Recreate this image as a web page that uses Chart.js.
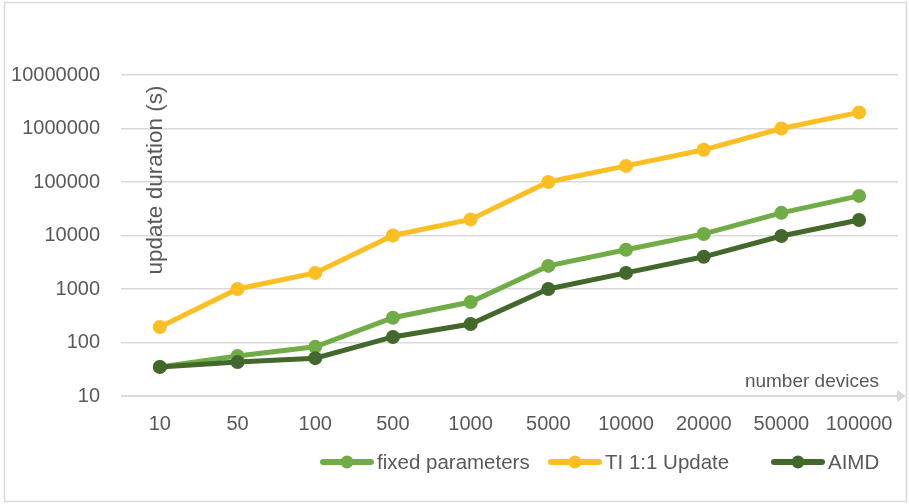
<!DOCTYPE html>
<html>
<head>
<meta charset="utf-8">
<script src="https://cdn.jsdelivr.net/npm/chart.js@4/dist/chart.umd.min.js"></script>
<style>
  html, body { margin: 0; padding: 0; background: #ffffff; }
  #wrap { width: 909px; height: 504px; position: relative; }
</style>
</head>
<body>
<div id="wrap"><canvas id="c" width="909" height="504"></canvas></div>
<script>
// Number of devices (category axis)
const deviceCounts = ['10', '50', '100', '500', '1000', '5000', '10000', '20000', '50000', '100000'];
// Update duration in seconds per strategy
const fixedParameters = [35, 56, 83, 290, 570, 2700, 5400, 10700, 26500, 55000];
const tiUpdate = [195, 1000, 2000, 10000, 20000, 100000, 200000, 400000, 1000000, 2000000];
const aimd = [35, 43, 51, 127, 222, 1000, 2000, 4000, 9800, 19500];
// Decade ticks on the log axis
const durationTicks = [10, 100, 1000, 10000, 100000, 1000000, 10000000];

const seriesNames = ['fixed parameters', 'TI 1:1 Update', 'AIMD'];
const seriesColors = ['#70AD47', '#FBBF24', '#43682B'];

const FONT = '"Liberation Sans", Arial, sans-serif';
const TEXT = '#595959';
const GRID = '#d9d9d9';
// left edge of each legend entry
const LEGEND_X = [320, 548, 771];

function lineDataset(i, data, order) {
  return {
    label: seriesNames[i],
    data: data,
    borderColor: seriesColors[i],
    backgroundColor: seriesColors[i],
    pointBackgroundColor: seriesColors[i],
    pointBorderColor: seriesColors[i],
    borderWidth: 5,
    pointRadius: 7,
    pointBorderWidth: 0,
    tension: 0,
    order: order
  };
}

// Frame, arrowed x axis, axis titles and the line+marker legend
const decorations = {
  id: 'decorations',
  beforeDatasetsDraw(chart) {
    const { ctx, chartArea: a, scales: { y } } = chart;
    const yb = Math.round(y.getPixelForValue(10));
    ctx.save();
    ctx.strokeStyle = GRID;
    ctx.lineWidth = 2;
    ctx.beginPath();
    ctx.moveTo(a.left, yb);
    ctx.lineTo(a.right, yb);
    ctx.stroke();
    ctx.fillStyle = GRID;
    ctx.beginPath();
    ctx.moveTo(a.right - 1, yb - 6.5);
    ctx.lineTo(a.right + 8, yb);
    ctx.lineTo(a.right - 1, yb + 6.5);
    ctx.closePath();
    ctx.fill();
    ctx.restore();
  },
  afterDraw(chart) {
    const { ctx } = chart;
    ctx.save();
    // outer frame
    ctx.strokeStyle = GRID;
    ctx.lineWidth = 1.5;
    ctx.strokeRect(4.5, 2.5, 902, 499);

    // y axis title, placed inside the plot
    ctx.fillStyle = TEXT;
    ctx.font = '22.5px ' + FONT;
    ctx.textAlign = 'center';
    ctx.textBaseline = 'middle';
    ctx.save();
    ctx.translate(156, 180);
    ctx.rotate(-Math.PI / 2);
    ctx.fillText('update duration (s)', 0, 0);
    ctx.restore();

    // x axis title above the arrow
    ctx.font = '19px ' + FONT;
    ctx.textAlign = 'right';
    ctx.fillText('number devices', 879, 382);

    // legend: line with a round marker, then the label
    ctx.font = '20.5px ' + FONT;
    ctx.textAlign = 'left';
    const ly = 462;
    chart.data.datasets.forEach((ds, i) => {
      const lx = LEGEND_X[i];
      ctx.strokeStyle = ds.borderColor;
      ctx.fillStyle = ds.borderColor;
      ctx.lineWidth = 6;
      ctx.lineCap = 'round';
      ctx.beginPath();
      ctx.moveTo(lx + 3, ly);
      ctx.lineTo(lx + 51, ly);
      ctx.stroke();
      ctx.beginPath();
      ctx.arc(lx + 27, ly, 6.5, 0, Math.PI * 2);
      ctx.fill();
      ctx.fillStyle = TEXT;
      ctx.fillText(ds.label, lx + 57, ly + 1);
    });
    ctx.restore();
  }
};

new Chart(document.getElementById('c'), {
  type: 'line',
  data: {
    labels: deviceCounts,
    datasets: [
      lineDataset(0, fixedParameters, 2),
      lineDataset(1, tiUpdate, 1),
      lineDataset(2, aimd, 0)
    ]
  },
  options: {
    responsive: false,
    animation: false,
    devicePixelRatio: 1,
    layout: { padding: { left: 0, right: 11, top: 75, bottom: 0 } },
    plugins: {
      legend: { display: false },
      tooltip: { enabled: false }
    },
    scales: {
      x: {
        type: 'category',
        offset: true,
        grid: { display: false, drawTicks: false },
        border: { display: false },
        ticks: { color: TEXT, font: { family: FONT, size: 20 }, padding: 16, maxRotation: 0, autoSkip: false },
        afterFit(scale) { scale.height = 108; }
      },
      y: {
        type: 'logarithmic',
        min: 10,
        max: 10000000,
        grid: { color: GRID, lineWidth: 1.5, drawTicks: false },
        border: { display: false },
        ticks: {
          color: TEXT,
          font: { family: FONT, size: 20 },
          padding: 21,
          callback: (v) => String(v)
        },
        afterBuildTicks(scale) {
          scale.ticks = durationTicks.map((v) => ({ value: v }));
        },
        afterFit(scale) { scale.width = 121; }
      }
    }
  },
  plugins: [decorations]
});
</script>
</body>
</html>
